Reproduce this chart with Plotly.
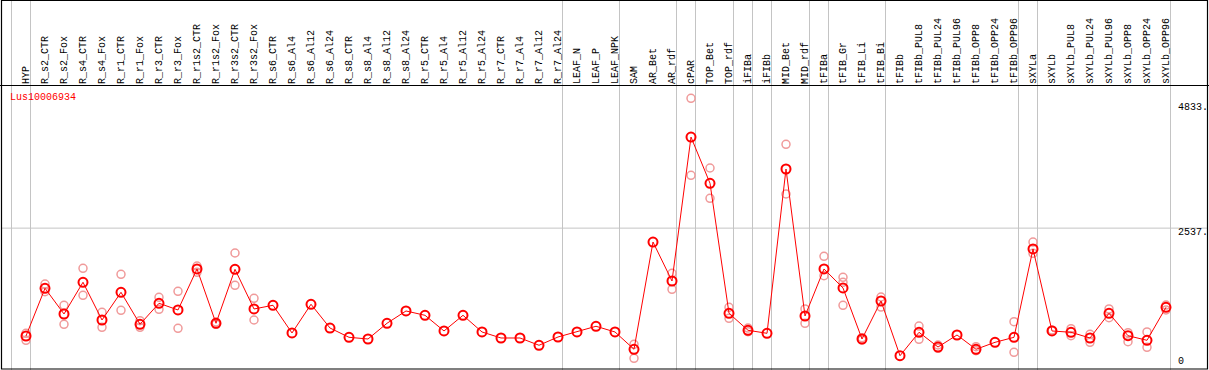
import plotly.graph_objects as go

categories = ["HYP", "R_s2_CTR", "R_s2_Fox", "R_s4_CTR", "R_s4_Fox", "R_r1_CTR", "R_r1_Fox",
              "R_r3_CTR", "R_r3_Fox", "R_r1s2_CTR", "R_r1s2_Fox", "R_r3s2_CTR", "R_r3s2_Fox",
              "R_s6_CTR", "R_s6_Al4", "R_s6_Al12", "R_s6_Al24", "R_s8_CTR", "R_s8_Al4",
              "R_s8_Al12", "R_s8_Al24", "R_r5_CTR", "R_r5_Al4", "R_r5_Al12", "R_r5_Al24",
              "R_r7_CTR", "R_r7_Al4", "R_r7_Al12", "R_r7_Al24", "LEAF_N", "LEAF_P", "LEAF_NPK",
              "SAM", "AR_Bet", "AR_rdf", "cPAR", "TOP_Bet", "TOP_rdf", "iFIBa", "iFIBb",
              "MID_Bet", "MID_rdf", "tFIBa", "tFIB_Gr", "tFIB_Li", "tFIB_Bi", "tFIBb",
              "tFIBb_PUL8", "tFIBb_PUL24", "tFIBb_PUL96", "tFIBb_OPP8", "tFIBb_OPP24",
              "tFIBb_OPP96", "sXYLa", "sXYLb", "sXYLb_PUL8", "sXYLb_PUL24", "sXYLb_PUL96",
              "sXYLb_OPP8", "sXYLb_OPP24", "sXYLb_OPP96"]

mean_values = [493, 1397, 910, 1511, 796, 1321, 715, 1113, 986, 1763, 734, 1757, 1005,
               1075, 550, 1094, 644, 468, 436, 734, 967, 885, 588, 885, 569,
               455, 455, 317, 474, 569, 677, 569,
               241, 2274, 1535, 4264, 3387, 923, 601, 544,
               3658, 872, 1763, 1403, 436, 1156, 119,
               563, 284, 512, 241, 373, 468,
               2142, 588, 563, 455, 923, 498, 411, 1037]

rep_a = [544, 1478, 1075, 1776, 942, 1662, 783, 1226, 1340, 1819, 758, 2066, 1207,
         None, None, None, None, None, None, None, None, None, None, None, None,
         None, None, None, None, None, None, None,
         335, None, 1681, 4998, 3677, 1037, 644, None,
         4126, 1005, 2003, 1605, 461, 1232, None,
         682, 322, None, 290, None, 764,
         2274, 607, 631, 525, 1005, 555, 569, 1080]

rep_b = [411, 1332, 715, 1264, 658, 980, 658, 999, 639, 1700, 715, 1454, 796,
         None, None, None, None, None, None, None, None, None, None, None, None,
         None, None, None, None, None, None, None,
         70, None, 1378, 3539, 3103, 828, 574, None,
         3184, 734, 1636, 1511, 417, 1042, None,
         430, 260, None, 214, None, 184,
         2060, None, 498, 373, 840, 385, 279, 986]

rep_c = [None] * 43 + [1075] + [None] * 17

# group separators are drawn after these category indices
separator_after = [-1, 0, 28, 31, 34, 35, 37, 38, 39, 41, 42, 45, 52, 53, 60]

gene_name = "Lus10006934"
scale_labels = ["4833.", "2537.", "0"]
scale_label_px = [107.3, 232.0, 361.7]
grid_value = 2537

W, H = 1209, 370
HEADER = 85
PITCH = 19.0
X0 = 26.0
FONT = "Liberation Mono"

fig = go.Figure()

# replicate points
for reps in (rep_a, rep_b, rep_c):
    fig.add_trace(go.Scatter(
        x=categories, y=reps, mode="markers",
        marker=dict(symbol="circle-open", size=8, color="#f09a9a", line=dict(width=1.5, color="#f09a9a")),
        hoverinfo="skip", showlegend=False))

# mean line
fig.add_trace(go.Scatter(
    x=categories, y=mean_values, mode="lines+markers",
    line=dict(color="#ff0000", width=1),
    marker=dict(symbol="circle-open", size=9, color="#ff0000", line=dict(width=2, color="#ff0000")),
    hoverinfo="skip", showlegend=False))

shapes = []
# vertical group separators
for s in separator_after:
    xv = s + 4.5 / PITCH
    shapes.append(dict(type="line", xref="x", yref="paper", x0=xv, x1=xv, y0=0, y1=1,
                       line=dict(color="#c4c4c4", width=1), layer="below"))
# horizontal grid line
shapes.append(dict(type="line", xref="paper", yref="y", x0=1.5 / W, x1=1207.5 / W,
                   y0=grid_value, y1=grid_value, line=dict(color="#c4c4c4", width=1), layer="below"))
# header separator
shapes.append(dict(type="line", xref="paper", yref="paper", x0=0, x1=1,
                   y0=1 - (HEADER + 0.5) / H, y1=1 - (HEADER + 0.5) / H,
                   line=dict(color="black", width=1)))
# outer frame
shapes.append(dict(type="rect", xref="paper", yref="paper",
                   x0=1.5 / W, x1=1207.5 / W, y0=1 - 369 / H, y1=1 - 0.5 / H,
                   line=dict(color="black", width=1.2)))

annotations = [dict(text=gene_name, xref="paper", yref="paper", x=8 / W, y=1 - 97.5 / H,
                    xanchor="left", yanchor="middle", showarrow=False,
                    font=dict(family=FONT, size=10, color="#ff0000"))]
for lab, py in zip(scale_labels, scale_label_px):
    annotations.append(dict(text=lab, xref="paper", yref="paper", x=1176 / W, y=1 - py / H,
                            xanchor="left", yanchor="middle", showarrow=False,
                            font=dict(family=FONT, size=10, color="black")))

y_lo = (362 - H) * 18.953
y_hi = (362 - HEADER) * 18.953

fig.update_layout(
    width=W, height=H,
    margin=dict(l=0, r=0, t=0, b=0),
    paper_bgcolor="white", plot_bgcolor="white",
    shapes=shapes, annotations=annotations,
    xaxis=dict(type="category", categoryorder="array", categoryarray=categories,
               side="top", range=[-X0 / PITCH, (W - X0) / PITCH],
               showgrid=False, zeroline=False, showline=False, ticks="",
               tickangle=-90, tickfont=dict(family=FONT, size=10, color="black"),
               ticklabelstandoff=0, fixedrange=True),
    yaxis=dict(domain=[0, 1 - HEADER / H], range=[y_lo, y_hi], showgrid=False,
               zeroline=False, showline=False, showticklabels=False, ticks="", fixedrange=True),
)

fig.write_html("out.html", config={"displayModeBar": False, "staticPlot": True},
               post_script="document.body.style.margin='0';document.body.style.overflow='hidden';")
